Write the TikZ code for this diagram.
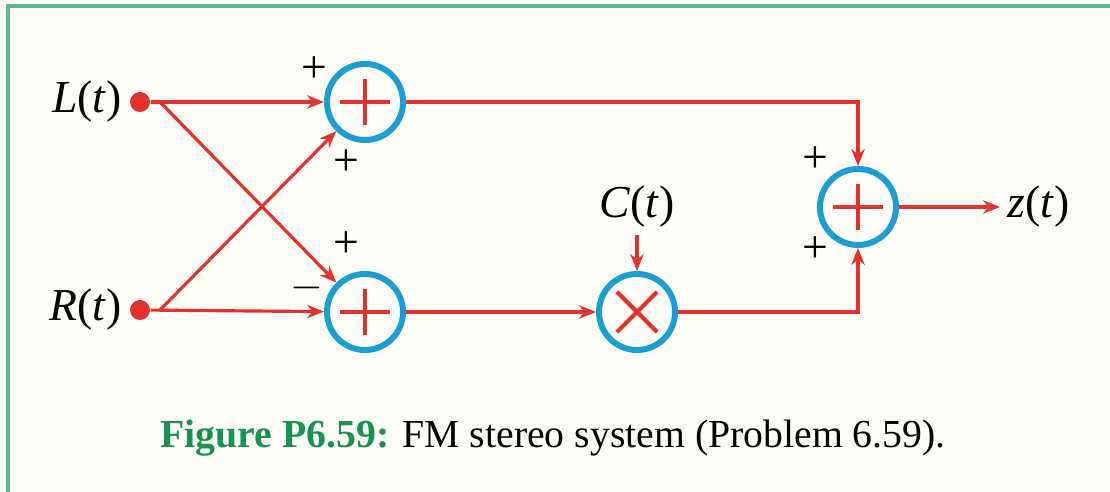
\documentclass[tikz,border=0pt]{standalone}
\usepackage{fontspec}
\setmainfont{Liberation Serif}
\usetikzlibrary{arrows.meta}
\definecolor{sigred}{HTML}{E3312D}
\definecolor{ringblue}{HTML}{1B9FD3}
\definecolor{capgreen}{HTML}{17924F}
\definecolor{framegreen}{HTML}{5BB58C}
\definecolor{paper}{HTML}{FFFDF8}
\newcommand{\sig}[1]{\textit{#1}(\textit{t})}
\begin{document}
\begin{tikzpicture}[x=0.01cm, y=-0.01cm, >={Stealth[length=4.8pt,width=3.8pt]},
  sig/.style={draw=sigred, line width=0.9pt, ->},
  port/.style={circle, fill=sigred, inner sep=0pt, minimum size=0.2cm},
  lbl/.style={font=\fontsize{13}{15}\selectfont, inner sep=2pt},
  sgn/.style={font=\fontsize{13}{15}\selectfont, inner sep=0pt},
  adder/.style={circle, draw=ringblue, line width=1.7pt, minimum size=0.76cm, inner sep=0pt,
    path picture={\draw[sigred, line width=1.2pt]
      ([xshift=-0.25cm]path picture bounding box.center) -- ([xshift=0.25cm]path picture bounding box.center)
      ([yshift=-0.23cm]path picture bounding box.center) -- ([yshift=0.23cm]path picture bounding box.center);}},
  mixer/.style={circle, draw=ringblue, line width=1.7pt, minimum size=0.76cm, inner sep=0pt,
    path picture={\draw[sigred, line width=1.2pt]
      ([shift={(-0.2cm,-0.2cm)}]path picture bounding box.center) -- ([shift={(0.2cm,0.2cm)}]path picture bounding box.center)
      ([shift={(-0.2cm,0.2cm)}]path picture bounding box.center) -- ([shift={(0.2cm,-0.2cm)}]path picture bounding box.center);}}]
\fill[paper] (0,0) rectangle (1110,492);
\useasboundingbox (0,0) rectangle (1110,492);
\draw[framegreen, line width=0.9pt] (1110,6) -- (8,6) -- (8,492);
\node[port] (lin) at (140,102) {};
\node[port] (rin) at (140,310) {};
\node[lbl, anchor=east] (ltxt) at (lin.west) {\sig{L}};
\node[lbl, anchor=east] (rtxt) at (rin.west) {\sig{R}};
\coordinate (lsplit) at (160,102);
\coordinate (rsplit) at (160,310);
\node[adder] (sum1) at (365,102) {};
\node[adder] (sum2) at (365,312) {};
\node[mixer] (mix) at (637,312) {};
\node[adder] (sum3) at (858,207) {};
\node[lbl] (ctxt) at (637,207) {\sig{C}};
\node[lbl, anchor=west] (zout) at (1000,207) {\textit{z}(\textit{t})};
\node[sgn] (s1a) at (314,70) {+};
\node[sgn] (s1b) at (346,163) {+};
\node[sgn] (s2a) at (346,245) {+};
\node[sgn] (s2b) at (307,288) {$-$};
\node[sgn] (s3a) at (815,160) {+};
\node[sgn] (s3b) at (815,250) {+};
\draw[sig] (lin) -- (sum1);
\draw[sig] (rin) -- (sum2);
\draw[sig] (lsplit) -- (sum2);
\draw[sig] (rsplit) -- (sum1);
\draw[sig] (sum1) -| (sum3);
\draw[sig] (sum2) -- (mix);
\draw[sig] (mix) -| (sum3);
\draw[sig] (ctxt) -- (mix);
\draw[sig] (sum3) -- (zout);
\node[font=\fontsize{11.3}{13}\selectfont] (cap) at (553,438)
  {\textcolor{capgreen}{\textbf{Figure P6.59:}} FM stereo system (Problem 6.59).};
\end{tikzpicture}
\end{document}
